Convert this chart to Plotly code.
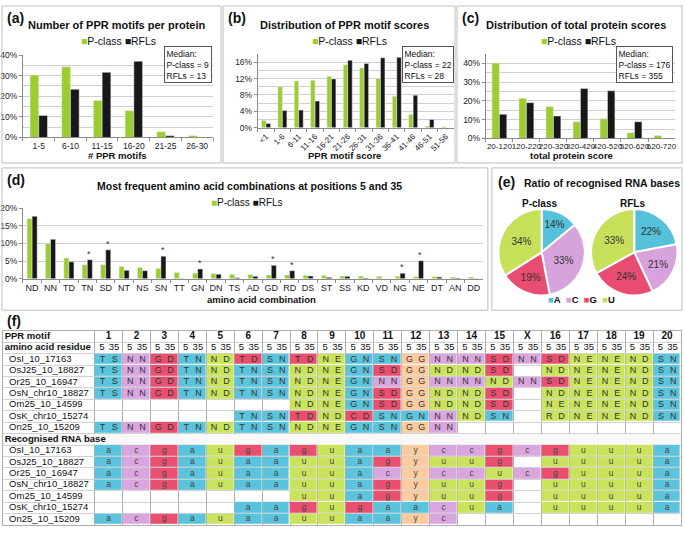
import plotly.graph_objects as go

W, H = 685, 535
def fx(px): return px / W
def fy(py): return 1 - py / H

GREEN = "#9DCC2F"
BLACK = "#181818"
FONT = "Liberation Sans, Arial, sans-serif"
TXT = "#222222"

# ---------------- data ----------------
# (a) number of PPR motifs per protein (%)
motif_bins = ["1-5", "6-10", "11-15", "16-20", "21-25", "26-30"]
motif_p = [30.3, 34.3, 18.0, 13.0, 2.8, 0.9]
motif_r = [10.7, 23.4, 31.6, 37.0, 0.8, 0.0]

# (b) PPR motif scores (%)
score_bins = ["<1", "1-6", "6-11", "11-16", "16-21", "21-26", "26-31", "31-36", "36-41", "41-46", "46-51", "51-56"]
score_p = [1.8, 10.0, 11.4, 11.6, 12.6, 15.4, 14.6, 12.0, 7.7, 3.2, 0.4, 0.2]
score_r = [1.0, 4.2, 4.3, 6.5, 11.9, 16.5, 15.7, 17.1, 17.2, 7.9, 2.0, 0.0]

# (c) total protein scores (%)
total_bins = ["20-120", "120-220", "220-320", "320-420", "420-520", "520-620", "620-720"]
total_p = [40.2, 21.4, 17.0, 8.9, 10.5, 3.0, 1.6]
total_r = [12.9, 19.1, 12.0, 26.6, 25.4, 8.9, 0.0]

medians = ["Median:<br>P-class = 9<br>RFLs = 13",
           "Median:<br>P-class = 22<br>RFLs = 28",
           "Median:<br>P-class = 176<br>RFLs = 355"]

# (d) amino acid combinations at positions 5 and 35 (%)
combos = ["ND", "NN", "TD", "TN", "SD", "NT", "NS", "SN", "TT", "GN", "DN", "TS", "AD",
          "GD", "RD", "DS", "ST", "SS", "KD", "VD", "NG", "NE", "DT", "AN", "DD"]
combo_p = [17.0, 10.0, 5.9, 4.0, 4.0, 3.5, 3.2, 2.9, 1.8, 1.6, 1.4, 1.3, 1.2,
           1.1, 1.1, 1.0, 0.9, 0.8, 0.8, 0.7, 0.7, 0.6, 0.6, 0.5, 0.5]
combo_r = [17.7, 11.2, 4.8, 5.4, 8.2, 2.4, 2.3, 6.4, 0.1, 2.8, 1.3, 0.3, 0.7,
           3.8, 2.3, 0.8, 0.4, 0.7, 0.2, 0.0, 1.6, 5.1, 0.5, 0.2, 0.05]
combo_sig = ["", "", "", "*", "*", "", "", "*", "", "*", "", "", "",
             "*", "*", "", "", "", "", "", "*", "*", "", "", ""]

# (e) recognised RNA bases (%)
bases = ["A", "C", "G", "U"]
base_colors = ["#55C1DA", "#D8A3DD", "#E84C70", "#C7E05A"]
pie_p = [14, 33, 19, 34]
pie_r = [22, 21, 24, 33]

# (f) table
motifs = ["1", "2", "3", "4", "5", "6", "7", "8", "9", "10", "11", "12", "13", "14", "15",
          "X", "16", "17", "18", "19", "20"]
proteins = ["OsI_10_17163", "OsJ25_10_18827", "Or25_10_16947", "OsN_chr10_18827",
            "Om25_10_14599", "OsK_chr10_15274", "On25_10_15209"]
residues = [
    ["TS", "NN", "GD", "TN", "ND", "TD", "SN", "TD", "NE", "GN", "SN", "GG", "NN", "NN", "SD", "NN", "SD", "NE", "NE", "ND", "SN"],
    ["TS", "NN", "GD", "TN", "ND", "TN", "SN", "ND", "NE", "GN", "SD", "GG", "ND", "ND", "SD", "", "ND", "NE", "NE", "ND", "SN"],
    ["TS", "NN", "GD", "TN", "ND", "TN", "SN", "ND", "NE", "GN", "NN", "GG", "NN", "NN", "ND", "NN", "SD", "NE", "NE", "ND", "SN"],
    ["TS", "NN", "GD", "TN", "ND", "TN", "SN", "ND", "NE", "GN", "SD", "GG", "ND", "ND", "SD", "", "ND", "NE", "NE", "ND", "SN"],
    ["", "", "", "", "", "", "", "ND", "NE", "GN", "SD", "GG", "ND", "ND", "SD", "", "NE", "NE", "NE", "ND", "SN"],
    ["", "", "", "", "", "TN", "SN", "TD", "ND", "CD", "SN", "GN", "NN", "ND", "SN", "", "RD", "NE", "NE", "ND", "SN"],
    ["TS", "NN", "GD", "TN", "ND", "TN", "SN", "ND", "NE", "GN", "SN", "GG", "NN", "", "", "", "", "", "", "", ""],
]
rna = [
    ["a", "c", "g", "a", "u", "g", "a", "g", "u", "a", "a", "y", "c", "c", "g", "c", "g", "u", "u", "u", "a"],
    ["a", "c", "g", "a", "u", "a", "a", "u", "u", "a", "g", "y", "u", "u", "g", "", "u", "u", "u", "u", "a"],
    ["a", "c", "g", "a", "u", "a", "a", "u", "u", "a", "c", "y", "c", "c", "u", "c", "g", "u", "u", "u", "a"],
    ["a", "c", "g", "a", "u", "a", "a", "u", "u", "a", "g", "y", "u", "u", "g", "", "u", "u", "u", "u", "a"],
    ["", "", "", "", "", "", "", "u", "u", "a", "g", "y", "u", "u", "g", "", "u", "u", "u", "u", "a"],
    ["", "", "", "", "", "a", "a", "g", "u", "g", "a", "a", "c", "u", "a", "", "u", "u", "u", "u", "a"],
    ["a", "c", "g", "a", "u", "a", "a", "u", "u", "a", "a", "y", "c", "", "", "", "", "", "", "", ""],
]
rna_codes = ["a", "c", "g", "u", "y"]
rna_colors = ["#5BC3DB", "#DAA6E0", "#E9506F", "#C9E35C", "#FCCB9F"]

# ---------------- figure ----------------
fig = go.Figure()

def add_bars(cats, p, r, xa, ya):
    fig.add_trace(go.Bar(x=cats, y=p, name="P-class", marker_color=GREEN, xaxis=xa, yaxis=ya,
                         showlegend=False, hoverinfo="skip"))
    fig.add_trace(go.Bar(x=cats, y=r, name="RFLs", marker_color=BLACK, xaxis=xa, yaxis=ya,
                         showlegend=False, hoverinfo="skip"))

add_bars(motif_bins, motif_p, motif_r, "x", "y")
add_bars(score_bins, score_p, score_r, "x2", "y2")
add_bars(total_bins, total_p, total_r, "x3", "y3")
add_bars(combos, combo_p, combo_r, "x4", "y4")

# pies
for vals, x0, x1 in [(pie_p, 499, 587), (pie_r, 592, 680)]:
    fig.add_trace(go.Pie(values=vals, labels=bases, sort=False, direction="clockwise", rotation=0,
                         marker=dict(colors=base_colors, line=dict(color="white", width=2)),
                         texttemplate="%{value}%", textposition="inside",
                         insidetextorientation="horizontal",
                         textfont=dict(size=10, color="#333333", family=FONT),
                         domain=dict(x=[fx(x0), fx(x1)], y=[fy(296), fy(208)]),
                         showlegend=False, hoverinfo="skip"))

# table heatmap
nrow = 17
z = [[None] * len(motifs) for _ in range(nrow)]
for k in range(len(proteins)):
    for j, b in enumerate(rna[k]):
        if b:
            z[2 + k][j] = rna_codes.index(b)
            z[10 + k][j] = rna_codes.index(b)
cs = []
n = len(rna_codes)
for i, c in enumerate(rna_colors):
    cs.append([i / n, c])
    cs.append([(i + 1) / n, c])
fig.add_trace(go.Heatmap(z=z, x=list(range(len(motifs))), y=list(range(nrow)),
                         colorscale=cs, zmin=-0.5, zmax=n - 0.5, showscale=False,
                         xgap=1, ygap=1, xaxis="x5", yaxis="y5", hoverinfo="skip"))

def txt(xs, ys, texts, size=9, pos="middle center", color=TXT):
    fig.add_trace(go.Scatter(x=xs, y=ys, text=texts, mode="text", textposition=pos,
                             textfont=dict(size=size, color=color, family=FONT),
                             xaxis="x5", yaxis="y5", showlegend=False, hoverinfo="skip",
                             cliponaxis=False))

LX = -3.78
txt([LX + 0.06] * 3, [0, 1, 9],
    ["<b>PPR motif</b>", "<b>amino acid residue</b>", "<b>Recognised RNA base</b>"],
    size=9.5, pos="middle right", color="#111111")
txt([LX + 0.22] * 14, [2 + k for k in range(7)] + [10 + k for k in range(7)],
    proteins + proteins, size=9.5, pos="middle right", color="#111111")
txt(list(range(len(motifs))), [0] * len(motifs), ["<b>%s</b>" % m for m in motifs], size=10, color="#111111")
txt([j - 0.24 for j in range(len(motifs))] + [j + 0.2 for j in range(len(motifs))],
    [1] * (2 * len(motifs)), ["5"] * len(motifs) + ["35"] * len(motifs), size=9.5, color="#111111")
xs, ys, ts = [], [], []
for k in range(len(proteins)):
    for j, rr in enumerate(residues[k]):
        if rr:
            xs += [j - 0.22, j + 0.22]
            ys += [2 + k, 2 + k]
            ts += [rr[0], rr[1]]
txt(xs, ys, ts, size=9, color="#333333")
xs, ys, ts = [], [], []
for k in range(len(proteins)):
    for j, b in enumerate(rna[k]):
        if b:
            xs.append(j)
            ys.append(10 + k)
            ts.append(b)
txt(xs, ys, ts, size=8.5, color="#444444")

# ---------------- axes ----------------
AX = "#8C8C8C"
GRID = "#CFCFCF"

def xcat(dom, fs=8.5, angle=0):
    return dict(domain=[fx(dom[0]), fx(dom[1])], type="category", showline=True, linecolor=AX,
                ticks="outside", tickson="boundaries", ticklen=3, tickcolor=AX,
                tickfont=dict(size=fs, color=TXT, family=FONT), tickangle=angle, showgrid=False,
                fixedrange=True)

def ynum(dom, rng, dtick, minor=None, fs=8.5):
    d = dict(domain=[fy(dom[1]), fy(dom[0])], range=rng, dtick=dtick, ticksuffix="%",
             showline=True, linecolor=AX, ticks="outside", ticklen=3, tickcolor=AX,
             showgrid=True, gridcolor=GRID, zeroline=False,
             tickfont=dict(size=fs, color=TXT, family=FONT), fixedrange=True)
    if minor:
        d["minor"] = dict(dtick=minor, showgrid=True, gridcolor=GRID)
    return d

layout = dict(
    width=W, height=H, margin=dict(l=0, r=0, t=0, b=0),
    paper_bgcolor="white", plot_bgcolor="white",
    font=dict(family=FONT, color=TXT),
    barmode="group", showlegend=False,
    xaxis=dict(xcat((22, 213), 8.5), anchor="y"),
    yaxis=dict(ynum((51, 135), [0, 40], 10, 5), anchor="x"),
    xaxis2=dict(xcat((258, 455), 8, -45), anchor="y2"),
    yaxis2=dict(ynum((50, 125), [0, 18], 4, 2), anchor="x2"),
    xaxis3=dict(xcat((487, 677), 8), anchor="y3"),
    yaxis3=dict(ynum((50, 136), [0, 45], 10, 5), anchor="x3"),
    xaxis4=dict(xcat((22, 484), 9), anchor="y4"),
    yaxis4=dict(ynum((207, 279), [0, 20], 5), anchor="x4"),
    xaxis5=dict(domain=[fx(2), fx(683)], range=[LX, len(motifs) - 0.5],
                tickvals=[j - 0.5 for j in range(len(motifs) + 1)], showgrid=True,
                gridcolor="#AFAFAF", showticklabels=False, ticks="", zeroline=False,
                showline=True, mirror=True, linecolor="#AFAFAF", anchor="y5", fixedrange=True),
    yaxis5=dict(domain=[fy(530), fy(332)], range=[nrow - 0.5, -0.5],
                tickvals=[r - 0.5 for r in range(nrow + 1)], showgrid=True,
                gridcolor="#D2D2D2", showticklabels=False, ticks="", zeroline=False,
                showline=True, mirror=True, linecolor="#AFAFAF", anchor="x5", fixedrange=True),
    bargap=0.45, bargroupgap=0,
)
fig.update_layout(**layout)

# frames
for x0, y0, x1, y1 in [(1, 1, 221, 161), (223, 1, 456, 161), (458, 1, 684, 161),
                       (1, 166, 489, 311), (493, 166, 684, 311)]:
    fig.add_shape(type="rect", xref="paper", yref="paper", x0=fx(x0), x1=fx(x1), y0=fy(y1), y1=fy(y0),
                  line=dict(color="#BDBDBD", width=1), fillcolor="rgba(0,0,0,0)")
# mask the "Recognised RNA base" row grid
fig.add_shape(type="rect", xref="x5", yref="y5", x0=LX, x1=len(motifs) - 0.5, y0=8.55, y1=9.45,
              fillcolor="#F8F8F8", line=dict(width=0), layer="between")

def ann(x, y, text, size=11, xanchor="center", bold=True, **kw):
    fig.add_annotation(x=fx(x), y=fy(y), xref="paper", yref="paper", text=("<b>%s</b>" % text) if bold else text,
                       showarrow=False, xanchor=xanchor, yanchor="middle",
                       font=dict(size=size, color="#111111", family=FONT), **kw)

def sq(color):
    return "<span style='color:%s'>■</span>" % color

# panel labels and titles
ann(4, 13, "(a)", 14, "left")
ann(117, 20, "Number of PPR motifs per protein", 11)
ann(226, 13, "(b)", 14, "left")
ann(345, 20, "Distribution of PPR motif scores", 11)
ann(461, 13, "(c)", 14, "left")
ann(578, 20, "Distribution of total protein scores", 11)
ann(117, 153, "# PPR motifs", 9.5)
ann(345, 153, "PPR motif score", 9.5)
ann(573, 153, "total protein score", 9.5)
ann(4, 178, "(d)", 14, "left")
ann(250, 184, "Most frequent amino acid combinations at positions 5 and 35", 10.5)
ann(262, 300, "amino acid combination", 9.5)
ann(497, 180, "(e)", 14, "left")
ann(523, 181, "Ratio of recognised RNA bases", 10.5, "left")
ann(541, 202, "P-class", 10)
ann(634, 202, "RFLs", 10)
ann(4, 322, "(f)", 14, "left")

# legends (as coloured square glyphs + names)
series_names = ["P-class", "RFLs"]
series_colors = [GREEN, BLACK]
bar_legend = " ".join(sq(c) + nm for c, nm in zip(series_colors, series_names))
for xc, yc, fs in [(118, 37, 10.5), (350, 37, 10.5), (580, 37, 10.5), (247, 201, 10)]:
    ann(xc, yc, bar_legend, fs, bold=False)
pie_legend = "  ".join(sq(c) + "<b>%s</b>" % b for c, b in zip(base_colors, bases))
ann(583, 300, pie_legend, 9.5, bold=False)

# median boxes
for text, xr in zip(medians, [212, 455, 675]):
    fig.add_annotation(x=fx(xr), y=fy(42), xref="paper", yref="paper", text=text, showarrow=False,
                       xanchor="right", yanchor="top", align="left",
                       font=dict(size=8.5, color="#111111", family=FONT),
                       bordercolor="#555555", borderwidth=1, borderpad=1.5, bgcolor="white")

# significance asterisks in (d)
for c, v, s in zip(combos, combo_r, combo_sig):
    if s:
        fig.add_annotation(x=c, y=v, xref="x4", yref="y4", text=s, showarrow=False,
                           xshift=2, yshift=-1, yanchor="bottom",
                           font=dict(size=9, color="#333333", family=FONT))

fig.write_html("out.html", config={"displayModeBar": False},
               post_script="document.body.style.margin='0px';document.body.style.overflow='hidden';")
